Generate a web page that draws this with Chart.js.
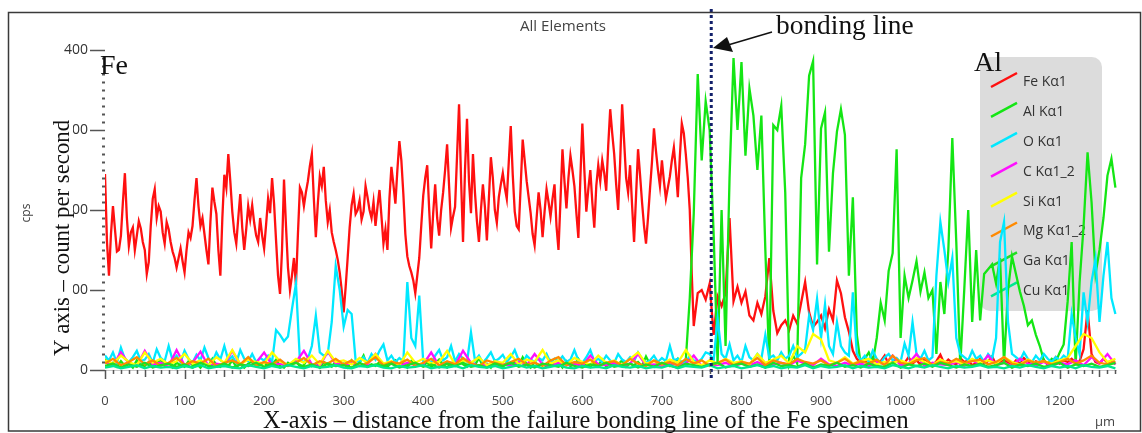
<!DOCTYPE html>
<html><head><meta charset="utf-8">
<script src="https://cdn.jsdelivr.net/npm/chart.js@4.4.1/dist/chart.umd.min.js"></script>
<style>html,body{margin:0;padding:0;background:#fff;}#wrap{width:1142px;height:433px;}</style>
</head><body><div id="wrap"><canvas id="c" width="1142" height="433"></canvas></div>
<script>
// sample spacing (µm) of each measured segment
const stepDense = 2.5;
const stepFine = 5;
const stepCoarse = 10;
const feTailStart = 745;

// Fe Kα1, 0–740 µm every 2.5 µm
const feKa1Dense = [
245,160,118,170,205,176,148,150,168,210,246,190,155,172,178,150,168,186,177,160,
150,120,135,180,214,226,190,205,198,172,158,185,176,160,148,140,128,140,152,136,
122,150,172,165,180,212,240,205,180,190,170,150,132,185,228,210,195,150,118,190,
244,228,270,236,198,172,158,190,220,178,150,176,205,188,206,184,168,160,190,168,
152,182,214,196,240,208,162,118,95,150,238,180,128,100,118,140,106,170,228,222,
205,222,236,255,270,214,166,208,242,230,254,212,185,200,172,160,150,138,122,100,
72,104,140,178,206,220,195,200,212,188,198,230,216,200,190,210,180,204,225,192,
158,176,150,214,254,232,208,250,286,262,220,170,142,130,122,112,96,118,140,180,
218,240,256,200,152,196,232,190,168,200,222,250,282,230,178,192,204,268,332,240,
160,250,314,236,196,270,222,186,160,200,232,204,162,214,266,240,200,184,216,232,
246,228,214,260,305,244,198,180,176,230,288,262,236,216,196,170,156,190,222,200,
166,198,226,210,192,214,232,180,150,212,276,236,202,240,268,250,230,196,165,240,
308,250,198,226,250,210,178,230,256,236,262,246,224,280,326,296,270,232,200,260,
332,286,240,222,256,206,160,218,276,244,210,180,158,190,226,260,302,274,250,230,
262,236,214,228,242,262,278,250,216,266,308,296,270,240,200,120,55];

// Fe Kα1, 745–1270 µm every 5 µm
const feKa1Tail = [
96,100,88,108,44,92,80,96,190,86,104,
84,98,68,62,84,70,92,140,74,46,
56,62,50,68,58,84,110,72,54,60,
68,52,76,62,112,96,66,48,24,14,
9,12,6,15,8,11,18,7,10,13,
6,9,16,8,12,7,14,10,6,11,
19,8,13,9,7,15,10,12,6,9,
14,8,11,17,7,10,13,9,6,12,
8,15,10,7,11,9,13,6,10,16,
8,12,10,14,9,11,26,75,20,10,
8,14,9,12,7];

const alKa1 = [
14,6,9,4,11,5,8,3,12,6,
5,10,4,8,13,5,7,3,9,6,
4,11,6,8,3,10,5,14,6,4,
9,5,12,4,7,3,8,11,5,6,
10,4,7,13,5,3,9,6,12,4,
6,15,5,8,3,10,7,4,11,6,
8,3,12,5,9,18,4,7,5,10,
6,4,9,12,5,8,3,11,6,7,
5,10,4,8,13,6,3,9,5,11,
7,4,10,6,15,5,8,3,12,6,
4,9,6,11,5,16,7,3,10,5,
8,4,12,6,9,3,11,5,7,14,
5,8,4,10,6,13,4,9,5,7,
12,4,8,6,10,5,17,7,4,9,
6,11,5,8,14,6,
12,90,195,370,262,336,300,170,8,200,
30,240,390,300,385,268,352,318,250,318,
150,6,306,300,330,222,6,18,8,240,
282,368,386,132,302,322,148,246,298,326,
294,118,216,44,6,14,22,10,40,84,
62,124,146,276,40,118,90,112,136,98,
122,90,100,20,110,70,150,290,160,6,
100,200,60,150,62,120,126,132,108,140,
8,100,142,120,98,80,56,62,44,30,
12,8,14,10,22,32,86,160,6,110,
180,272,210,120,150,190,243,264,228];

const oKa1 = [
18,12,22,9,28,14,10,16,24,11,
13,20,9,26,15,11,30,12,18,10,
24,14,9,19,12,28,15,10,22,13,
30,12,17,9,25,14,11,20,10,15,
12,18,10,50,44,36,42,76,108,12,
10,14,30,68,22,18,20,60,130,100,
54,75,70,12,10,16,9,20,13,24,
32,12,18,10,15,11,110,40,30,93,
10,14,9,18,25,12,16,30,11,20,
14,10,47,12,18,9,15,22,11,14,
19,10,16,25,12,9,18,13,10,15,
12,20,9,14,11,17,10,13,25,12,
9,16,25,11,14,10,18,12,9,20,
13,10,16,11,22,14,9,12,18,10,
15,11,30,12,14,10,9,18,12,10,
14,22,20,12,64,20,14,32,12,18,
10,30,16,12,20,14,44,15,18,12,
22,14,18,30,16,20,26,68,50,89,
40,82,30,20,60,30,22,18,97,20,
12,18,10,24,14,9,16,20,12,15,
10,33,18,60,20,14,24,12,16,118,
185,150,110,140,40,20,16,12,24,14,
18,10,20,14,40,160,185,60,20,16,
12,22,14,10,18,12,20,14,10,16,
12,18,14,70,40,20,97,60,110,139,
60,118,160,90,70];

const cKa1_2 = [
10,6,22,8,5,24,7,9,5,25,
6,9,23,5,8,6,24,7,5,9,
22,6,8,5,10,24,7,5,23,8,
6,9,5,7,20,6,8,5,9,6,
7,22,5,8,6,24,9,5,7,6,
8,5,10,6,20,7,5,9,6,8,
5,18,7,6,9,5,8,20,6,7,
5,9,6,8,18,5,7,6,9,5,
8,6,10,5,7,9,6,12,8,6,
14,7,5,9,6,8,5,10,7,18,
6,8,20,5,9,7,6,10,5,12,
7,18,6,9,5,14,8,6,10,5,
9,7,12,6,16,8,20,7];

const siKa1 = [
12,8,18,10,6,22,9,14,7,11,
20,8,12,6,16,9,25,7,13,10,
8,22,11,6,14,9,18,7,24,10,
12,7,15,9,20,8,11,6,22,9,
14,8,10,24,7,12,9,16,6,11,
9,20,7,13,10,25,8,12,6,15,
10,7,18,9,12,6,14,22,8,11,
7,13,9,25,10,6,12,8,14,9,
11,7,20,9,13,18,8,30,22,45,
38,12,9,16,8,11,14,7,10,9,
12,8,15,10,6,13,9,11,7,14,
9,12,8,16,10,7,13,9,11,8,
12,15,30,45,40,22,10,14];

const mgKa1_2 = [
8,14,6,10,16,7,12,5,9,15,
6,11,8,14,5,9,12,7,16,6,
10,7,13,5,9,15,6,11,8,14,
7,12,5,9,16,6,10,8,13,5,
9,14,6,11,7,15,8,5,12,9,
6,10,14,7,9,5,12,16,6,10,
8,13,5,9,11,6,14,8,5,12,
7,10,6,14,8,12,5,9,13,6,
10,8,15,6,12,9,7,14,10,8,
12,6,9,14,7,11,8,13,6,18,
9,7,12,15,6,10,8,14,9,11,
13,7,10,16,8,6,12,9,11,7,
10,14,8,12,18,9,7,11];

const gaKa1 = [
5,8,3,7,4,9,3,6,8,4,
7,3,9,5,4,8,3,7,5,9,
4,8,3,6,9,4,7,3,8,5,
6,3,9,4,7,5,8,3,6,9,
4,7,3,8,5,9,4,6,3,8,
5,9,4,7,3,8,6,4,9,5,
3,7,5,9,4,6,8,3,7,4,
9,5,3,8,6,4,7,9,3,6,
8,4,7,3,9,5,6,4,8,3,
7,5,9,4,6,3,8,5,4,9,
3,7,5,8,4,9,6,3,7,5,
8,4,6,9,3,7,5,8,4,6,
9,3,7,5,8,4,6,9];

const cuKa1 = [
3,5,2,4,6,2,5,3,4,2,
5,3,6,2,4,5,3,2,6,4,
2,5,3,6,4,2,5,3,4,6,
3,2,5,4,6,3,2,5,3,4,
6,2,4,3,5,2,6,4,3,5,
2,4,6,3,5,2,4,6,3,2,
5,3,4,2,6,4,3,5,2,4,
3,6,2,5,4,3,6,2,4,5,
2,4,6,3,5,2,4,3,6,2,
5,3,4,6,2,5,3,4,2,6,
4,2,5,3,6,4,2,5,3,4,
6,3,4,2,5,3,6,4,2,5,
3,5,2,6,4,3,5,2];

const seriesNames = ['Fe Kα1','Al Kα1','O Kα1','C Kα1_2','Si Kα1','Mg Kα1_2','Ga Kα1','Cu Kα1'];
const seriesColors = ['#ff1010','#14e614','#00e8ff','#ff10ff','#ffff00','#ff8a00','#22dd22','#00e890'];
const xTickLabels = [0,100,200,300,400,500,600,700,800,900,1000,1100,1200];
const yTickLabels = [0,100,200,300,400];
const xMax = 1272;
const yMax = 400;
const bondingLineAt = 762;

const toPoints = (vals, step, start) => vals.map((v, i) => ({x: (start || 0) + i * step, y: v}));

const seriesPoints = [
  toPoints(feKa1Dense, stepDense).concat(toPoints(feKa1Tail, stepFine, feTailStart)),
  toPoints(alKa1, stepFine),
  toPoints(oKa1, stepFine),
  toPoints(cKa1_2, stepCoarse),
  toPoints(siKa1, stepCoarse),
  toPoints(mgKa1_2, stepCoarse),
  toPoints(gaKa1, stepCoarse),
  toPoints(cuKa1, stepCoarse)
];

const datasets = seriesPoints.map((pts, k) => ({
  label: seriesNames[k],
  data: pts,
  borderColor: seriesColors[k],
  borderWidth: 2.3,
  pointRadius: 0,
  tension: 0,
  fill: false,
  order: seriesNames.length - k
}));

function fitFont(ctx, text, width, family) {
  ctx.font = '100px ' + family;
  const w = ctx.measureText(text).width;
  return (100 * width / w);
}

const decor = {
  id: 'decor',
  beforeDatasetsDraw(chart) {
    const ctx = chart.ctx;
    const x = chart.scales.x, y = chart.scales.y;
    ctx.save();
    ctx.strokeStyle = '#c8c8c8';
    ctx.lineWidth = 1;
    ctx.beginPath();
    ctx.moveTo(x.left, y.getPixelForValue(0) + 0.5);
    ctx.lineTo(x.right, y.getPixelForValue(0) + 0.5);
    ctx.stroke();
    // legend box
    ctx.fillStyle = 'rgba(214,214,214,0.85)';
    ctx.beginPath();
    ctx.roundRect(980, 57, 122, 254, 10);
    ctx.fill();
    ctx.font = '14px "Open Sans"';
    ctx.textBaseline = 'middle';
    ctx.textAlign = 'left';
    seriesNames.forEach((n, i) => {
      const cy = 82 + i * 29.9;
      ctx.strokeStyle = seriesColors[i];
      ctx.lineWidth = 2.5;
      ctx.beginPath();
      ctx.moveTo(991, cy + 5);
      ctx.lineTo(1017, cy - 9);
      ctx.stroke();
      ctx.fillStyle = '#333';
      ctx.fillText(n, 1023, cy);
    });
    ctx.restore();
  },
  afterDatasetsDraw(chart) {
    const ctx = chart.ctx;
    const px = chart.scales.x.getPixelForValue(bondingLineAt);
    ctx.save();
    ctx.strokeStyle = '#12206a';
    ctx.lineWidth = 3;
    ctx.setLineDash([3, 3]);
    ctx.beginPath();
    ctx.moveTo(px, 9);
    ctx.lineTo(px, 378);
    ctx.stroke();
    ctx.restore();
  },
  afterDraw(chart) {
    const ctx = chart.ctx;
    const x = chart.scales.x, y = chart.scales.y;
    const y0 = y.getPixelForValue(0);
    ctx.save();
    ctx.strokeStyle = '#555';
    ctx.lineWidth = 1.5;
    for (let v = 0; v <= 1270; v += 10) {
      const p = Math.round(x.getPixelForValue(v)) + 0.5;
      const len = v % 100 === 0 ? 9 : (v % 50 === 0 ? 7 : 4);
      ctx.beginPath();
      ctx.moveTo(p, y0);
      ctx.lineTo(p, y0 + len);
      ctx.stroke();
    }
    for (let v = 0; v <= 400; v += 10) {
      const p = Math.round(y.getPixelForValue(v)) + 0.5;
      ctx.beginPath();
      if (v % 100 === 0) { ctx.lineWidth = 1.5; ctx.moveTo(x.left - 15, p); }
      else { ctx.lineWidth = 2; ctx.moveTo(x.left - 3, p); }
      ctx.lineTo(x.left, p);
      ctx.stroke();
    }
    ctx.strokeStyle = '#3a3a3a';
    ctx.lineWidth = 1.5;
    ctx.strokeRect(8.5, 12.5, 1132, 418.5);
    ctx.fillStyle = '#444';
    ctx.textBaseline = 'middle';
    ctx.textAlign = 'center';
    ctx.font = fitFont(ctx, 'All Elements', 86, '"Open Sans"').toFixed(1) + 'px "Open Sans"';
    ctx.fillText('All Elements', 563, 27);
    ctx.font = '13px "Open Sans"';
    ctx.textAlign = 'left';
    ctx.fillText('µm', 1095, 422);
    ctx.save();
    ctx.translate(27, 213);
    ctx.rotate(-Math.PI / 2);
    ctx.textAlign = 'center';
    ctx.font = '12px "Open Sans"';
    ctx.fillText('cps', 0, 0);
    ctx.restore();
    ctx.fillStyle = '#fff';
    ctx.fillRect(44, 114, 29, 248);
    const serif = '"Liberation Serif", "Times New Roman", serif';
    ctx.fillStyle = '#111';
    ctx.textBaseline = 'alphabetic';
    ctx.textAlign = 'left';
    let t = 'Y axis – count per second';
    ctx.save();
    ctx.translate(69, 356);
    ctx.rotate(-Math.PI / 2);
    ctx.font = fitFont(ctx, t, 236, serif).toFixed(1) + 'px ' + serif;
    ctx.fillText(t, 0, 0);
    ctx.restore();
    t = 'X-axis – distance from the failure bonding line of the Fe specimen';
    ctx.font = fitFont(ctx, t, 645, serif).toFixed(1) + 'px ' + serif;
    ctx.fillText(t, 263, 428);
    t = 'bonding line';
    ctx.font = fitFont(ctx, t, 138, serif).toFixed(1) + 'px ' + serif;
    ctx.fillText(t, 776, 34);
    ctx.font = fitFont(ctx, 'Fe', 28, serif).toFixed(1) + 'px ' + serif;
    ctx.fillText('Fe', 100, 74);
    ctx.font = fitFont(ctx, 'Al', 28, serif).toFixed(1) + 'px ' + serif;
    ctx.fillText('Al', 974, 71);
    ctx.strokeStyle = '#111';
    ctx.lineWidth = 1.5;
    ctx.beginPath();
    ctx.moveTo(772, 32);
    ctx.lineTo(728, 45);
    ctx.stroke();
    ctx.fillStyle = '#111';
    ctx.beginPath();
    ctx.moveTo(713, 48);
    ctx.lineTo(727, 37);
    ctx.lineTo(733, 52);
    ctx.closePath();
    ctx.fill();
    ctx.restore();
  }
};

new Chart(document.getElementById('c'), {
  type: 'line',
  data: { datasets },
  options: {
    responsive: false,
    animation: false,
    devicePixelRatio: 1,
    layout: { padding: { top: 50, right: 25, left: 0, bottom: 0 } },
    plugins: { legend: { display: false }, tooltip: { enabled: false } },
    scales: {
      x: {
        type: 'linear', min: 0, max: xMax,
        afterBuildTicks: s => { s.ticks = xTickLabels.map(v => ({value: v})); },
        afterFit: s => { s.height = 63; },
        grid: { display: false, drawTicks: false },
        border: { display: false },
        ticks: { padding: 23, color: '#444', font: { family: 'Open Sans', size: 13 }, maxRotation: 0, autoSkip: false, callback: v => String(v) }
      },
      y: {
        type: 'linear', min: 0, max: yMax,
        afterBuildTicks: s => { s.ticks = yTickLabels.map(v => ({value: v})); },
        afterFit: s => { s.width = 105; },
        grid: { display: false, drawTicks: false },
        border: { display: false },
        ticks: { padding: 17, color: '#333', font: { family: 'Open Sans', size: 14 }, callback: v => String(v) }
      }
    }
  },
  plugins: [decor]
});
</script>
</body></html>
